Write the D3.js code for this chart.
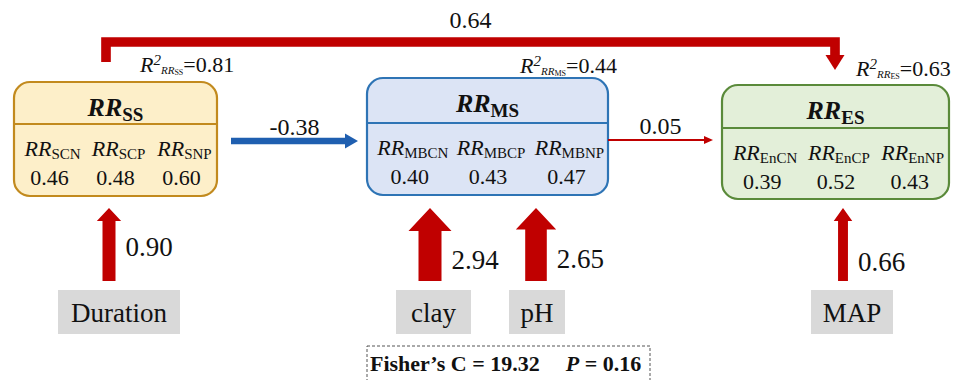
<!DOCTYPE html>
<html>
<head>
    <meta charset="UTF-8">
    <script src="https://d3js.org/d3.v7.min.js"></script>
</head>
<body style="margin:0">
    <svg id="chart" width="959" height="380"></svg>
    <script>
        // latent blocks
        const blockNames = ["SS", "MS", "ES"];
        const blockR2 = [0.81, 0.44, 0.63];
        const ssIndicators = ["SCN", "SCP", "SNP"];
        const ssLoadings = [0.46, 0.48, 0.60];
        const msIndicators = ["MBCN", "MBCP", "MBNP"];
        const msLoadings = [0.40, 0.43, 0.47];
        const esIndicators = ["EnCN", "EnCP", "EnNP"];
        const esLoadings = [0.39, 0.52, 0.43];

        // paths between blocks
        const pathFrom = ["SS", "MS", "SS"];
        const pathTo = ["MS", "ES", "ES"];
        const pathCoefs = [-0.38, 0.05, 0.64];

        // external drivers
        const drivers = ["Duration", "clay", "pH", "MAP"];
        const driverCoefs = [0.90, 2.94, 2.65, 0.66];

        const fisherC = 19.32, pValue = 0.16;

        const svg = d3.select("#chart");
        const red = "#c00000", blue = "#1f5fb0";

        function addText(parent, x, y, size) {
            return parent.append("text")
                .attr("x", x).attr("y", y)
                .style("font-family", '"Liberation Serif"')
                .attr("font-family", "Liberation Serif")
                .attr("font-size", size)
                .attr("fill", "#111");
        }

        // layout of the three boxes
        const boxes = {
            SS: {x0: 14, x1: 217, y0: 82, y1: 196, div: 124, fill: "#fdefc9", stroke: "#c28a1e"},
            MS: {x0: 367, x1: 608, y0: 78, y1: 195, div: 123, fill: "#dce4f5", stroke: "#2e74b5"},
            ES: {x0: 722, x1: 949, y0: 85, y1: 199, div: 128, fill: "#e3efd9", stroke: "#5a8a3a"}
        };
        const indicatorSets = {SS: [ssIndicators, ssLoadings], MS: [msIndicators, msLoadings], ES: [esIndicators, esLoadings]};
        const r2Pos = {SS: [140, 72], MS: [520, 73], ES: [856, 76]};

        // arrow width from coefficient size
        const widthScale = d3.scaleLinear().domain([0.05, 0.9, 2.94]).range([2, 13, 23]);

        function arrowPoly(x1, y1, x2, y2, w, hw, hl) {
            const dx = x2 - x1, dy = y2 - y1, len = Math.hypot(dx, dy);
            const ux = dx / len, uy = dy / len, px = -uy, py = ux;
            const bx = x2 - ux * hl, by = y2 - uy * hl;
            const pts = [
                [x1 + px * w / 2, y1 + py * w / 2],
                [bx + px * w / 2, by + py * w / 2],
                [bx + px * hw / 2, by + py * hw / 2],
                [x2, y2],
                [bx - px * hw / 2, by - py * hw / 2],
                [bx - px * w / 2, by - py * w / 2],
                [x1 - px * w / 2, y1 - py * w / 2]
            ];
            return pts.map(p => p.join(",")).join(" ");
        }

        // boxes
        blockNames.forEach((name, i) => {
            const b = boxes[name];
            const g = svg.append("g");
            g.append("rect")
                .attr("x", b.x0).attr("y", b.y0)
                .attr("width", b.x1 - b.x0).attr("height", b.y1 - b.y0)
                .attr("rx", 16).attr("ry", 16)
                .attr("fill", b.fill).attr("stroke", b.stroke).attr("stroke-width", 2.2);
            g.append("line")
                .attr("x1", b.x0).attr("x2", b.x1).attr("y1", b.div).attr("y2", b.div)
                .attr("stroke", b.stroke).attr("stroke-width", 1.8);

            const cx = (b.x0 + b.x1) / 2;
            const title = addText(g, cx, b.y0 + 34, 26)
                .attr("text-anchor", "middle").attr("font-weight", "bold");
            title.append("tspan").attr("font-style", "italic").text("RR");
            title.append("tspan").attr("font-size", 19).attr("dy", 5).text(name);

            const [labels, values] = indicatorSets[name];
            const col = d3.scalePoint().domain(labels).range([b.x0 + (b.x1 - b.x0) * 0.19, b.x0 + (b.x1 - b.x0) * 0.84]);
            labels.forEach((lab, j) => {
                const t = addText(g, col(lab), b.div + 32, 22).attr("text-anchor", "middle");
                t.append("tspan").attr("font-style", "italic").text("RR");
                t.append("tspan").attr("font-size", 15).attr("dy", 3).text(lab);
                addText(g, col(lab) - 3, b.div + 61, 22)
                    .attr("text-anchor", "middle")
                    .text(values[j].toFixed(2));
            });

            // R² label
            const [rx, ry] = r2Pos[name];
            const r = addText(svg, rx, ry, 22);
            r.append("tspan").attr("font-style", "italic").text("R");
            r.append("tspan").attr("font-style", "italic").attr("font-size", 15).attr("dy", -7).text("2");
            r.append("tspan").attr("font-style", "italic").attr("font-size", 11).attr("dy", 9).text("RR");
            r.append("tspan").attr("font-size", 8).attr("dy", 1).text(name);
            r.append("tspan").attr("dy", -3).text("=" + blockR2[i].toFixed(2));
        });

        // paths between boxes
        pathCoefs.forEach((c, i) => {
            const s = boxes[pathFrom[i]], t = boxes[pathTo[i]];
            const w = widthScale(Math.abs(c));
            const col = c < 0 ? blue : red;
            if (pathFrom[i] === "SS" && pathTo[i] === "ES") {
                // bracket over the top
                const lx = s.x0 + 92, rxp = t.x0 + 113, top = 42;
                svg.append("path")
                    .attr("d", `M${lx},${s.y0 - 20}V${top}H${rxp}V${t.y0 - 28}`)
                    .attr("fill", "none").attr("stroke", col).attr("stroke-width", w);
                svg.append("polygon")
                    .attr("points", arrowPoly(rxp, t.y0 - 30, rxp, t.y0 - 15, w, 19, 15))
                    .attr("fill", col);
                addText(svg, (lx + rxp) / 2, 28, 24)
                    .attr("text-anchor", "middle").text(c.toFixed(2));
            } else {
                const fromSS = pathFrom[i] === "SS";
                const x1 = s.x1 + (fromSS ? 14 : 0), x2 = t.x0 - 9;
                const y = fromSS ? 141 : 140;
                svg.append("polygon")
                    .attr("points", fromSS
                        ? arrowPoly(x1, y, x2, y, w, 15, 13)
                        : arrowPoly(x1, y, x2, y, w, 8, 9))
                    .attr("fill", col);
                addText(svg, (x1 + x2) / 2, y - 6, 24)
                    .attr("text-anchor", "middle").text(c.toFixed(2));
            }
        });

        // drivers
        const driverBox = {
            Duration: [58, 180], clay: [396, 471], pH: [509, 565], MAP: [811, 893]
        };
        const driverX = {Duration: 109, clay: 430, pH: 536, MAP: 843};
        const labelBase = {Duration: 256, clay: 269, pH: 268, MAP: 271};
        drivers.forEach((d, i) => {
            const [bx0, bx1] = driverBox[d];
            svg.append("rect").attr("x", bx0).attr("y", 290).attr("width", bx1 - bx0).attr("height", 44)
                .attr("fill", "#d9d9d9");
            addText(svg, (bx0 + bx1) / 2, 322, 27)
                .attr("text-anchor", "middle").text(d);
            const w = widthScale(driverCoefs[i]);
            const x = driverX[d];
            svg.append("polygon")
                .attr("points", arrowPoly(x, 281, x, 208, w, w * 1.87, Math.max(w, 13)))
                .attr("fill", red);
            addText(svg, x + w / 2 + 10, labelBase[d], 27)
                .text(driverCoefs[i].toFixed(2));
        });

        // fit statistics
        svg.append("rect").attr("x", 367).attr("y", 346).attr("width", 283).attr("height", 50)
            .attr("fill", "none").attr("stroke", "#555").attr("stroke-width", 1)
            .attr("stroke-dasharray", "3,2");
        const f = addText(svg, 370, 371, 22).attr("font-weight", "bold");
        f.append("tspan").text(`Fisher\u2019s C = ${fisherC.toFixed(2)}`);
        f.append("tspan").attr("dx", 26).attr("font-style", "italic").text("P");
        f.append("tspan").text(` = ${pValue.toFixed(2)}`);
    </script>
</body>
</html>
